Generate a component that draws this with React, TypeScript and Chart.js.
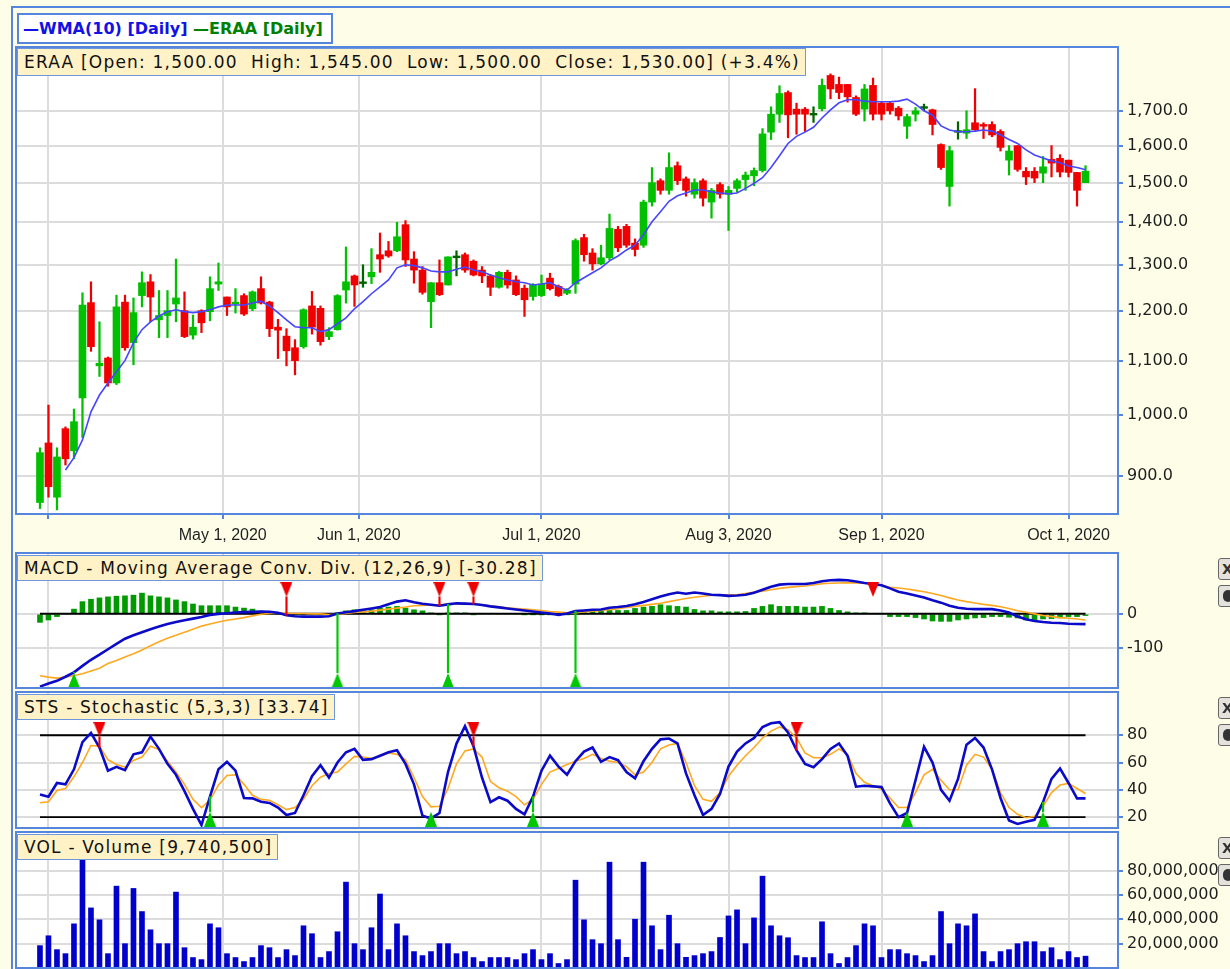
import React, { useEffect, useRef } from 'react';
import { Chart, registerables } from 'chart.js';

Chart.register(...registerables);

// ---------------- DATA ----------------
const openP = [
  859, 953, 867, 977, 940, 1031, 1217, 1090, 1105, 1058,
  1218, 1135, 1232, 1262, 1181, 1190, 1214, 1200, 1150, 1200,
  1198, 1257, 1229, 1214, 1232, 1204, 1247, 1218, 1166, 1148,
  1125, 1127, 1210, 1205, 1147, 1161, 1244, 1275, 1260, 1273,
  1323, 1332, 1332, 1394, 1313, 1288, 1219, 1260, 1255, 1318,
  1323, 1308, 1288, 1275, 1250, 1283, 1266, 1248, 1230, 1232,
  1270, 1252, 1237, 1257, 1363, 1327, 1302, 1316, 1383, 1390,
  1350, 1345, 1450, 1505, 1480, 1545, 1510, 1470, 1505, 1450,
  1495, 1470, 1485, 1508, 1518, 1532, 1638, 1690, 1755, 1705,
  1705, 1690, 1706, 1808, 1780, 1780, 1740, 1705, 1777, 1723,
  1723, 1708, 1655, 1690, 1710, 1703, 1603, 1490, 1640, 1635,
  1665, 1660, 1660, 1640, 1560, 1600, 1530, 1530, 1525, 1562,
  1565, 1560, 1527, 1500,
];
const highP = [
  945, 1018, 945, 980, 1011, 1238, 1262, 1177, 1107, 1233,
  1233, 1227, 1284, 1278, 1243, 1243, 1313, 1240, 1191, 1202,
  1273, 1304, 1229, 1247, 1236, 1242, 1273, 1220, 1182, 1163,
  1141, 1204, 1241, 1210, 1165, 1234, 1341, 1277, 1300, 1337,
  1374, 1354, 1400, 1404, 1330, 1296, 1260, 1311, 1318, 1332,
  1327, 1311, 1296, 1278, 1285, 1288, 1275, 1255, 1258, 1277,
  1281, 1255, 1247, 1360, 1371, 1337, 1345, 1420, 1390, 1395,
  1360, 1455, 1540, 1510, 1580, 1555, 1515, 1510, 1510, 1485,
  1500, 1490, 1510, 1528, 1539, 1648, 1712, 1776, 1760, 1723,
  1710, 1712, 1797, 1813, 1803, 1780, 1745, 1780, 1800, 1728,
  1726, 1713, 1690, 1710, 1720, 1705, 1605, 1598, 1668, 1700,
  1767, 1665, 1668, 1645, 1600, 1600, 1540, 1540, 1570, 1600,
  1575, 1560, 1527, 1545,
];
const lowP = [
  850, 867, 848, 917, 927, 962, 1118, 1070, 1052, 1055,
  1120, 1092, 1208, 1177, 1145, 1145, 1177, 1145, 1142, 1155,
  1179, 1243, 1190, 1195, 1190, 1200, 1214, 1147, 1104, 1090,
  1073, 1124, 1152, 1130, 1141, 1160, 1216, 1209, 1250, 1258,
  1283, 1317, 1330, 1296, 1259, 1235, 1165, 1232, 1255, 1275,
  1283, 1275, 1260, 1232, 1248, 1248, 1232, 1188, 1222, 1230,
  1244, 1230, 1234, 1237, 1308, 1288, 1300, 1311, 1330, 1340,
  1320, 1340, 1440, 1470, 1470, 1495, 1465, 1460, 1440, 1410,
  1460, 1380, 1475, 1480, 1492, 1528, 1617, 1666, 1622, 1632,
  1640, 1666, 1700, 1736, 1736, 1726, 1686, 1670, 1673, 1673,
  1690, 1673, 1620, 1670, 1700, 1630, 1535, 1440, 1618, 1620,
  1643, 1620, 1625, 1585, 1520, 1530, 1495, 1500, 1500, 1515,
  1515, 1515, 1440, 1500,
];
const closeP = [
  937, 883, 930, 927, 989, 1212, 1127, 1095, 1058, 1208,
  1125, 1196, 1260, 1229, 1190, 1200, 1227, 1147, 1166, 1175,
  1247, 1262, 1208, 1218, 1193, 1240, 1216, 1163, 1160, 1119,
  1100, 1202, 1166, 1137, 1157, 1232, 1262, 1255, 1260, 1283,
  1313, 1320, 1365, 1311, 1288, 1239, 1260, 1234, 1318, 1318,
  1288, 1277, 1275, 1250, 1283, 1255, 1234, 1223, 1255, 1257,
  1247, 1232, 1244, 1356, 1323, 1302, 1316, 1385, 1339, 1345,
  1335, 1450, 1500, 1480, 1540, 1505, 1480, 1500, 1460, 1480,
  1470, 1480, 1505, 1520, 1532, 1633, 1690, 1752, 1688, 1690,
  1690, 1690, 1777, 1766, 1755, 1742, 1690, 1766, 1690, 1690,
  1700, 1685, 1683, 1700, 1710, 1660, 1540, 1586, 1640, 1645,
  1645, 1655, 1630, 1595, 1585, 1535, 1515, 1512, 1542, 1552,
  1528, 1527, 1480, 1530,
];
const wma10 = [
  null, null, null, 909, 929, 958, 1006, 1036, 1058, 1079,
  1100, 1135, 1161, 1177, 1189, 1198, 1202, 1198, 1196, 1198,
  1202, 1208, 1212, 1212, 1212, 1216, 1220, 1210, 1196, 1181,
  1167, 1165, 1165, 1157, 1161, 1173, 1185, 1204, 1219, 1236,
  1251, 1266, 1293, 1300, 1298, 1293, 1286, 1284, 1284, 1290,
  1295, 1288, 1284, 1277, 1271, 1266, 1262, 1260, 1255, 1257,
  1260, 1251, 1244, 1260, 1271, 1282, 1293, 1309, 1320, 1334,
  1345, 1370, 1401, 1426, 1452, 1466, 1473, 1481, 1481, 1476,
  1473, 1471, 1473, 1485, 1498, 1513, 1540, 1572, 1606, 1626,
  1638, 1652, 1679, 1703, 1724, 1733, 1733, 1729, 1727, 1727,
  1727, 1729, 1735, 1720, 1700, 1687, 1656, 1644, 1639, 1639,
  1641, 1644, 1641, 1630, 1617, 1606, 1588, 1574, 1566, 1558,
  1553, 1544, 1540, 1534,
];
const macdLine = [
  -214, -205, -197, -185, -172, -153, -135, -120, -104, -88,
  -73, -63, -54, -45, -37, -30, -24, -19, -14, -9,
  -3, 0, 2, 4, 5, 6, 7, 6, 3, -4,
  -7, -8, -8, -8, -7, 1, 5, 8, 12, 16,
  20, 28, 36, 40, 34, 30, 27, 24, 28, 31,
  30, 29, 26, 22, 19, 16, 13, 10, 7, 4,
  1, -3, 1, 8, 10, 12, 13, 18, 20, 23,
  28, 35, 43, 51, 58, 63, 59, 63, 60, 56,
  55, 53, 54, 56, 62, 71, 80, 86, 88, 88,
  88, 91, 96, 99, 100, 99, 95, 91, 88, 84,
  75, 65, 60, 54, 48, 40, 33, 24, 18, 15,
  14, 14, 14, 10, 4, -8, -16, -21, -24, -26,
  -27, -29, -30, -30.28,
];
const macdSignal = [
  -182, -186, -189, -186, -181, -176, -168, -160, -146, -137,
  -127, -117, -106, -94, -82, -72, -63, -54, -45, -36,
  -30, -24, -19, -15, -11, -6, -1, 1, 2, 2,
  1, 1, 0, 0, -2, -2, 1, 4, 6, 8,
  11, 14, 17, 20, 24, 25, 26, 27, 28, 29,
  30, 30, 27, 24, 21, 18, 16, 14, 12, 10,
  7, 5, 3, 3, 6, 8, 10, 12, 15, 19,
  22, 25, 28, 31, 36, 41, 45, 49, 52, 55,
  56, 56, 56, 60, 64, 67, 71, 75, 78, 80,
  82, 85, 89, 90, 91, 92, 91, 90, 88, 84,
  78, 76, 73, 69, 65, 60, 54, 47, 41, 36,
  32, 28, 25, 21, 16, 9, 5, 0, -5, -8,
  -11, -13, -15, -18,
];
const macdHist = [
  -25, -18, -8, 0, 14, 36, 43, 47, 50, 52,
  53, 55, 61, 53, 50, 47, 41, 36, 29, 24,
  24, 24, 24, 20, 17, 14, 8, 4, 1, -1,
  -1, -1, -1, -1, -1, 3, 9, 12, 9, 12,
  17, 20, 22, 17, 12, 9, 3, -1, 2, 3,
  1, -1, 0, 0, 0, 0, 0, -1, -1, -1,
  -1, -1, -1, 6, 9, 10, 10, 13, 10, 10,
  16, 20, 22, 27, 24, 22, 20, 13, 9, 9,
  6, 6, 6, 7, 16, 22, 27, 22, 22, 22,
  20, 20, 22, 16, 10, 6, 2, 1, 0, 0,
  -8, -8, -8, -11, -15, -21, -22, -22, -18, -15,
  -12, -11, -8, -8, -10, -12, -18, -17, -15, -14,
  -12, -8, -8, -5,
];
const stochK = [
  36.6, 34.9, 45, 44, 55, 75, 81.7, 71, 54, 56.8,
  54.4, 66, 67.5, 79, 70, 59, 51, 39, 26, 14.2,
  35, 55, 60.5, 54, 34, 33.7, 31.2, 30.4, 27, 21.5,
  23, 36, 50, 58, 49, 60, 67.5, 70, 62, 62.5,
  65, 67.5, 69, 59, 44, 21, 19, 23, 53, 73.9,
  86.6, 72, 49, 31, 34.5, 32, 26, 22, 35, 54,
  65, 57, 51, 61, 68, 71, 60.5, 64, 61.7, 53,
  48.5, 61, 70, 77, 77.6, 74, 52, 36, 21.5, 26,
  37, 57, 68, 74, 78, 86, 88.8, 89.6, 82, 69,
  59, 56.5, 62.5, 70, 74, 65, 42.3, 43, 42.5, 42,
  30, 20, 23, 47, 71.5, 60, 40, 32, 48, 73,
  78, 71, 55, 34, 17.5, 15, 16.6, 18, 31, 48,
  55.6, 45, 33.7, 33.74,
];
const stochD = [
  30.5, 31.2, 39.5, 41, 49.5, 60, 72.5, 72, 62, 58.5,
  56.6, 61.5, 64, 72, 69.5, 61, 53, 44, 33, 27,
  32.5, 43.5, 50.5, 51, 44, 36, 33, 32.3, 29, 25.5,
  27, 33, 43, 49.2, 52, 53, 59, 64.5, 64, 63,
  64.5, 67, 66, 62, 49, 35, 27.5, 28, 41, 59,
  68.5, 70, 64, 46, 41.5, 39, 35, 29, 33, 44,
  53, 55.6, 58.5, 61, 63, 66, 63, 61, 60, 57,
  51, 53, 60, 70, 72.8, 74, 60, 43, 33, 31.5,
  38, 50, 58, 65, 71, 78, 83, 86, 84, 78,
  67, 63.5, 63.5, 66, 70, 66, 52, 45.5, 43, 40.5,
  34, 27, 27, 38, 51, 55, 47, 40, 40, 58,
  66, 64, 55, 38, 27, 22, 19.5, 20.5, 28, 38,
  43.5, 44.7, 41, 37.3,
];
// daily volume, millions of shares
const volumeM = [
  18.4, 26.5, 15.1, 11.8, 36.3, 88.6, 49.4, 39.6, 11.8, 67.3,
  20.0, 65.4, 46.4, 31.4, 20.0, 20.0, 62.4, 16.7, 8.6, 6.9,
  36.3, 33.1, 11.8, 8.6, 5.3, 8.6, 18.4, 16.7, 8.6, 15.1,
  10.2, 34.7, 28.2, 8.6, 13.5, 29.8, 70.6, 20.0, 15.1, 33.1,
  60.8, 15.1, 36.3, 26.5, 13.5, 10.2, 13.5, 20.0, 20.0, 11.8,
  13.5, 8.6, 5.3, 8.6, 8.6, 8.6, 6.9, 11.8, 15.1, 6.9,
  11.8, 3.7, 6.9, 72.2, 39.6, 23.3, 20.0, 87.0, 23.3, 8.8,
  40.1, 87.0, 34.7, 15.1, 43.4, 20.0, 8.8, 10.2, 11.8, 13.5,
  25.1, 42.8, 47.8, 20.0, 41.2, 75.5, 34.7, 26.5, 24.9, 10.2,
  8.6, 8.6, 38.0, 11.8, 3.7, 8.6, 18.4, 36.3, 34.7, 8.6,
  15.1, 15.1, 11.8, 10.2, 5.3, 10.2, 46.4, 20.0, 36.3, 34.7,
  44.5, 13.5, 5.3, 13.5, 15.1, 20.0, 21.6, 21.6, 13.5, 16.7,
  6.9, 13.5, 8.6, 9.7405,
];
// month gridlines: trading-day index (x.5 = month started on a market holiday)
const monthTickIndex = [1, 21.5, 37.5, 59, 81, 99, 121];
const monthTickLabels = ['', 'May 1, 2020', 'Jun 1, 2020', 'Jul 1, 2020', 'Aug 3, 2020', 'Sep 1, 2020', 'Oct 1, 2020'];
const priceTicks = [900, 1000, 1100, 1200, 1300, 1400, 1500, 1600, 1700];
const macdTicks = [-100, 0];
const stochTicks = [20, 40, 60, 80];
const volTicks = [20000000, 40000000, 60000000, 80000000];
const macdBuy = [4, 35, 48, 63];
const macdSell = [29, 47, 51, 98];
const stsBuy = [20, 46, 58, 102, 118];
const stsSell = [7, 51, 89];

// ---------------- STYLE ----------------
const N = closeP.length;
const GRID = '#dcdcdc';
const FRAME = '#5585dc';
const UP = '#00c000';
const DOWN = '#f00000';
const FLAT = '#006400';
const X_FONT = { family: '"Liberation Sans", Arial, sans-serif', size: 16 };
const Y_FONT = { family: '"DejaVu Sans", Verdana, sans-serif', size: 16 };
const PAGE_BG = '#fefee8';

const candleColor = (i: number) => (closeP[i] > openP[i] ? UP : closeP[i] < openP[i] ? DOWN : FLAT);

function triangle(color: string, down: boolean) {
  const c = document.createElement('canvas');
  c.width = 12;
  c.height = 15;
  const g = c.getContext('2d')!;
  g.fillStyle = color;
  g.beginPath();
  if (down) {
    g.moveTo(0, 0); g.lineTo(12, 0); g.lineTo(6, 15);
  } else {
    g.moveTo(6, 0); g.lineTo(12, 15); g.lineTo(0, 15);
  }
  g.closePath();
  g.fill();
  return c;
}

const framePlugin = {
  id: 'panelFrame',
  beforeDraw(chart: any) {
    const { ctx, chartArea: a } = chart;
    ctx.save();
    ctx.fillStyle = '#ffffff';
    ctx.fillRect(a.left, a.top, a.right - a.left, a.bottom - a.top);
    ctx.restore();
  },
  afterDraw(chart: any) {
    const { ctx, chartArea: a } = chart;
    ctx.save();
    ctx.strokeStyle = FRAME;
    ctx.lineWidth = 2;
    ctx.strokeRect(a.left, a.top, a.right - a.left, a.bottom - a.top);
    ctx.restore();
  },
};

function xScale(showLabels: boolean, h: number) {
  return {
    type: 'linear',
    min: -2.82,
    max: N - 1 + 3.82,
    offset: false,
    afterBuildTicks: (s: any) => { s.ticks = monthTickIndex.map((v) => ({ value: v })); },
    afterFit: (s: any) => { s.height = h; s.paddingLeft = 0; s.paddingRight = 0; },
    grid: { color: GRID, lineWidth: 2, offset: false, drawTicks: showLabels, tickLength: 5, tickColor: FRAME },
    border: { display: false },
    ticks: {
      display: showLabels, autoSkip: false, maxRotation: 0, padding: 7,
      font: X_FONT, color: '#1e1e1e',
      callback: (_v: any, i: number) => monthTickLabels[i] ?? '',
    },
  };
}

function yScale(type: string, min: number, max: number, ticks: number[], fmt: (v: number) => string) {
  return {
    type, position: 'right', min, max,
    afterBuildTicks: (s: any) => { s.ticks = ticks.map((v) => ({ value: v })); },
    afterFit: (s: any) => { s.width = 112; s.paddingTop = 0; s.paddingBottom = 0; },
    grid: { color: GRID, lineWidth: 2, drawTicks: true, tickLength: 5, tickColor: FRAME },
    border: { display: false },
    ticks: { autoSkip: false, padding: 4, font: Y_FONT, color: '#1e1e1e', callback: (v: any) => fmt(Number(v)) },
  };
}

function options(padTop: number, x: any, y: any) {
  return {
    responsive: false,
    maintainAspectRatio: false,
    animation: false,
    devicePixelRatio: 1,
    events: [],
    layout: { autoPadding: false, padding: { left: 16, right: 0, top: padTop, bottom: 0 } },
    plugins: { legend: { display: false }, tooltip: { enabled: false } },
    scales: { x, y },
  };
}

const pts = (arr: (number | null)[]) => arr.map((v, i) => ({ x: i, y: v }));
const hline = (v: number) => [{ x: 0, y: v }, { x: N - 1, y: v }];

// marker levels (axis units) for signal arrows
const MACD_SELL_Y = 72, MACD_SELL_TIP = 50, MACD_BUY_Y = -196, MACD_BUY_TIP = -173;
const STS_SELL_Y = 84.2, STS_SELL_TIP = 78.8, STS_BUY_Y = 18.4, STS_BUY_TIP = 23.9;

const labelBox = (left: number, top: number, h: number): React.CSSProperties => ({
  position: 'absolute', left, top, height: h, padding: '0 5px 0 6px', boxSizing: 'border-box',
  background: '#fff2c6', border: '1px solid #6f98dc', color: '#111',
  font: '17px "DejaVu Sans", Verdana, sans-serif', letterSpacing: '1.2px',
  lineHeight: `${h - 2}px`, whiteSpace: 'pre',
});

function SideButtons({ top }: { top: number }) {
  const b: React.CSSProperties = {
    position: 'absolute', left: 1218, width: 20, height: 22, boxSizing: 'border-box',
    background: '#e4e2da', border: '1px solid #666', borderRadius: 3,
    font: 'bold 14px "DejaVu Sans", sans-serif', color: '#333', lineHeight: '20px', paddingLeft: 3,
  };
  return (
    <>
      <div style={{ ...b, top: top + 5 }}>X</div>
      <div style={{ ...b, top: top + 32 }}>
        <div style={{ width: 10, height: 12, borderRadius: 6, background: '#333', marginTop: 4, marginLeft: 1 }} />
      </div>
    </>
  );
}

export default function App() {
  const pRef = useRef<HTMLCanvasElement>(null);
  const mRef = useRef<HTMLCanvasElement>(null);
  const sRef = useRef<HTMLCanvasElement>(null);
  const vRef = useRef<HTMLCanvasElement>(null);

  useEffect(() => {
    const idx = openP.map((_, i) => i);
    const redTri = triangle('#ee0000', true);
    const greenTri = triangle('#00c800', false);
    const charts: Chart[] = [];

    // ---- price ----
    charts.push(new Chart(pRef.current!, {
      type: 'bar',
      data: {
        datasets: [
          { type: 'line', data: pts(wma10), borderColor: '#4646ff', borderWidth: 1.6, pointRadius: 0, order: 1 } as any,
          {
            type: 'bar', order: 2, grouped: false, barThickness: 7, borderWidth: 0,
            data: idx.map((i) => ({
              x: i,
              y: openP[i] === closeP[i] ? [openP[i] * 0.9985, openP[i] * 1.0015] : [openP[i], closeP[i]],
            })),
            backgroundColor: idx.map(candleColor),
          } as any,
          {
            type: 'bar', order: 3, grouped: false, barThickness: 1.6, borderWidth: 0,
            data: idx.map((i) => ({ x: i, y: [lowP[i], highP[i]] })),
            backgroundColor: idx.map(candleColor),
          } as any,
        ],
      },
      options: options(47, xScale(true, 34),
        yScale('logarithmic', 842, 1900, priceTicks,
          (v) => v.toLocaleString('en-US', { minimumFractionDigits: 1, maximumFractionDigits: 1 }))) as any,
      plugins: [framePlugin],
    }));

    // ---- MACD ----
    charts.push(new Chart(mRef.current!, {
      type: 'bar',
      data: {
        datasets: [
          { type: 'line', data: macdSell.map((i) => ({ x: i, y: MACD_SELL_Y })), showLine: false, pointStyle: redTri, pointRadius: 7, order: 0 } as any,
          { type: 'line', data: macdBuy.map((i) => ({ x: i, y: MACD_BUY_Y })), showLine: false, pointStyle: greenTri, pointRadius: 7, order: 0 } as any,
          {
            type: 'bar', order: 1, grouped: false, barThickness: 1.5, backgroundColor: '#ee0000',
            data: macdSell.filter((i) => macdLine[i] < MACD_SELL_TIP).map((i) => ({ x: i, y: [macdLine[i], MACD_SELL_TIP] })),
          } as any,
          {
            type: 'bar', order: 1, grouped: false, barThickness: 1.5, backgroundColor: '#00c800',
            data: macdBuy.filter((i) => macdLine[i] > MACD_BUY_TIP).map((i) => ({ x: i, y: [MACD_BUY_TIP, macdLine[i]] })),
          } as any,
          { type: 'line', data: pts(macdLine), borderColor: '#0a0ac8', borderWidth: 2.6, pointRadius: 0, order: 2 } as any,
          { type: 'line', data: pts(macdSignal), borderColor: '#ffa820', borderWidth: 1.6, pointRadius: 0, order: 3 } as any,
          { type: 'line', data: hline(0), borderColor: '#000000', borderWidth: 2, pointRadius: 0, order: 4 } as any,
          { type: 'bar', data: pts(macdHist), backgroundColor: '#009a00', barThickness: 5, grouped: false, order: 5 } as any,
        ],
      },
      options: options(5, xScale(false, 2), yScale('linear', -218, 179, macdTicks, (v) => String(v))) as any,
      plugins: [framePlugin],
    }));

    // ---- Stochastic ----
    charts.push(new Chart(sRef.current!, {
      type: 'bar',
      data: {
        datasets: [
          { type: 'line', data: stsSell.map((i) => ({ x: i, y: STS_SELL_Y })), showLine: false, pointStyle: redTri, pointRadius: 7, order: 0 } as any,
          { type: 'line', data: stsBuy.map((i) => ({ x: i, y: STS_BUY_Y })), showLine: false, pointStyle: greenTri, pointRadius: 7, order: 0 } as any,
          {
            type: 'bar', order: 1, grouped: false, barThickness: 1.5, backgroundColor: '#ee0000',
            data: stsSell.filter((i) => stochK[i] < STS_SELL_TIP).map((i) => ({ x: i, y: [stochK[i], STS_SELL_TIP] })),
          } as any,
          {
            type: 'bar', order: 1, grouped: false, barThickness: 1.5, backgroundColor: '#00c800',
            data: stsBuy.filter((i) => stochK[i] > STS_BUY_TIP).map((i) => ({ x: i, y: [STS_BUY_TIP, stochK[i]] })),
          } as any,
          { type: 'line', data: pts(stochK), borderColor: '#0a0ac8', borderWidth: 2.6, pointRadius: 0, order: 2 } as any,
          { type: 'line', data: pts(stochD), borderColor: '#ffa820', borderWidth: 1.6, pointRadius: 0, order: 3 } as any,
          { type: 'line', data: hline(80), borderColor: '#000000', borderWidth: 1.8, pointRadius: 0, order: 4 } as any,
          { type: 'line', data: hline(20), borderColor: '#000000', borderWidth: 1.8, pointRadius: 0, order: 4 } as any,
        ],
      },
      options: options(2, xScale(false, 2), yScale('linear', 12, 111.7, stochTicks, (v) => String(v))) as any,
      plugins: [framePlugin],
    }));

    // ---- Volume ----
    charts.push(new Chart(vRef.current!, {
      type: 'bar',
      data: {
        datasets: [
          { type: 'bar', data: volumeM.map((v, i) => ({ x: i, y: v * 1e6 })), backgroundColor: '#0000cc', barThickness: 5, grouped: false } as any,
        ],
      },
      options: options(2, xScale(false, 1), yScale('linear', 0, 111800000, volTicks, (v) => v.toLocaleString('en-US'))) as any,
      plugins: [framePlugin],
    }));

    return () => charts.forEach((c) => c.destroy());
  }, []);

  const cv = (top: number, h: number): React.CSSProperties => ({ position: 'absolute', left: 0, top, width: 1230, height: h });

  return (
    <div style={{ position: 'absolute', left: 0, top: 0, width: 1230, height: 969, overflow: 'hidden', background: PAGE_BG }}>
      <div style={{ position: 'absolute', left: 11, top: 6, width: 1400, height: 1200, borderLeft: `2px solid ${FRAME}`, borderTop: `2px solid ${FRAME}` }} />
      <canvas ref={pRef} width={1230} height={548} style={cv(0, 548)} />
      <canvas ref={mRef} width={1230} height={142} style={cv(548, 142)} />
      <canvas ref={sRef} width={1230} height={140} style={cv(690, 140)} />
      <canvas ref={vRef} width={1230} height={139} style={cv(830, 139)} />

      <div style={{
        position: 'absolute', left: 17, top: 13, width: 316, height: 31, boxSizing: 'border-box',
        background: '#ffffff', border: `2px solid ${FRAME}`, padding: '0 4px',
        font: 'bold 16px "DejaVu Sans", Verdana, sans-serif', lineHeight: '27px', whiteSpace: 'pre',
      }}>
        <span style={{ color: '#1212e6' }}>—WMA(10) [Daily]</span>
        <span style={{ color: '#008000' }}> —ERAA [Daily]</span>
      </div>

      <div style={labelBox(17, 48, 28)}>ERAA [Open: 1,500.00  High: 1,545.00  Low: 1,500.00  Close: 1,530.00] (+3.4%)</div>
      <div style={labelBox(17, 555, 26)}>MACD - Moving Average Conv. Div. (12,26,9) [-30.28]</div>
      <div style={labelBox(17, 694, 26)}>STS - Stochastic (5,3,3) [33.74]</div>
      <div style={labelBox(17, 834, 26)}>VOL - Volume [9,740,500]</div>

      <SideButtons top={553} />
      <SideButtons top={692} />
      <SideButtons top={832} />
    </div>
  );
}
